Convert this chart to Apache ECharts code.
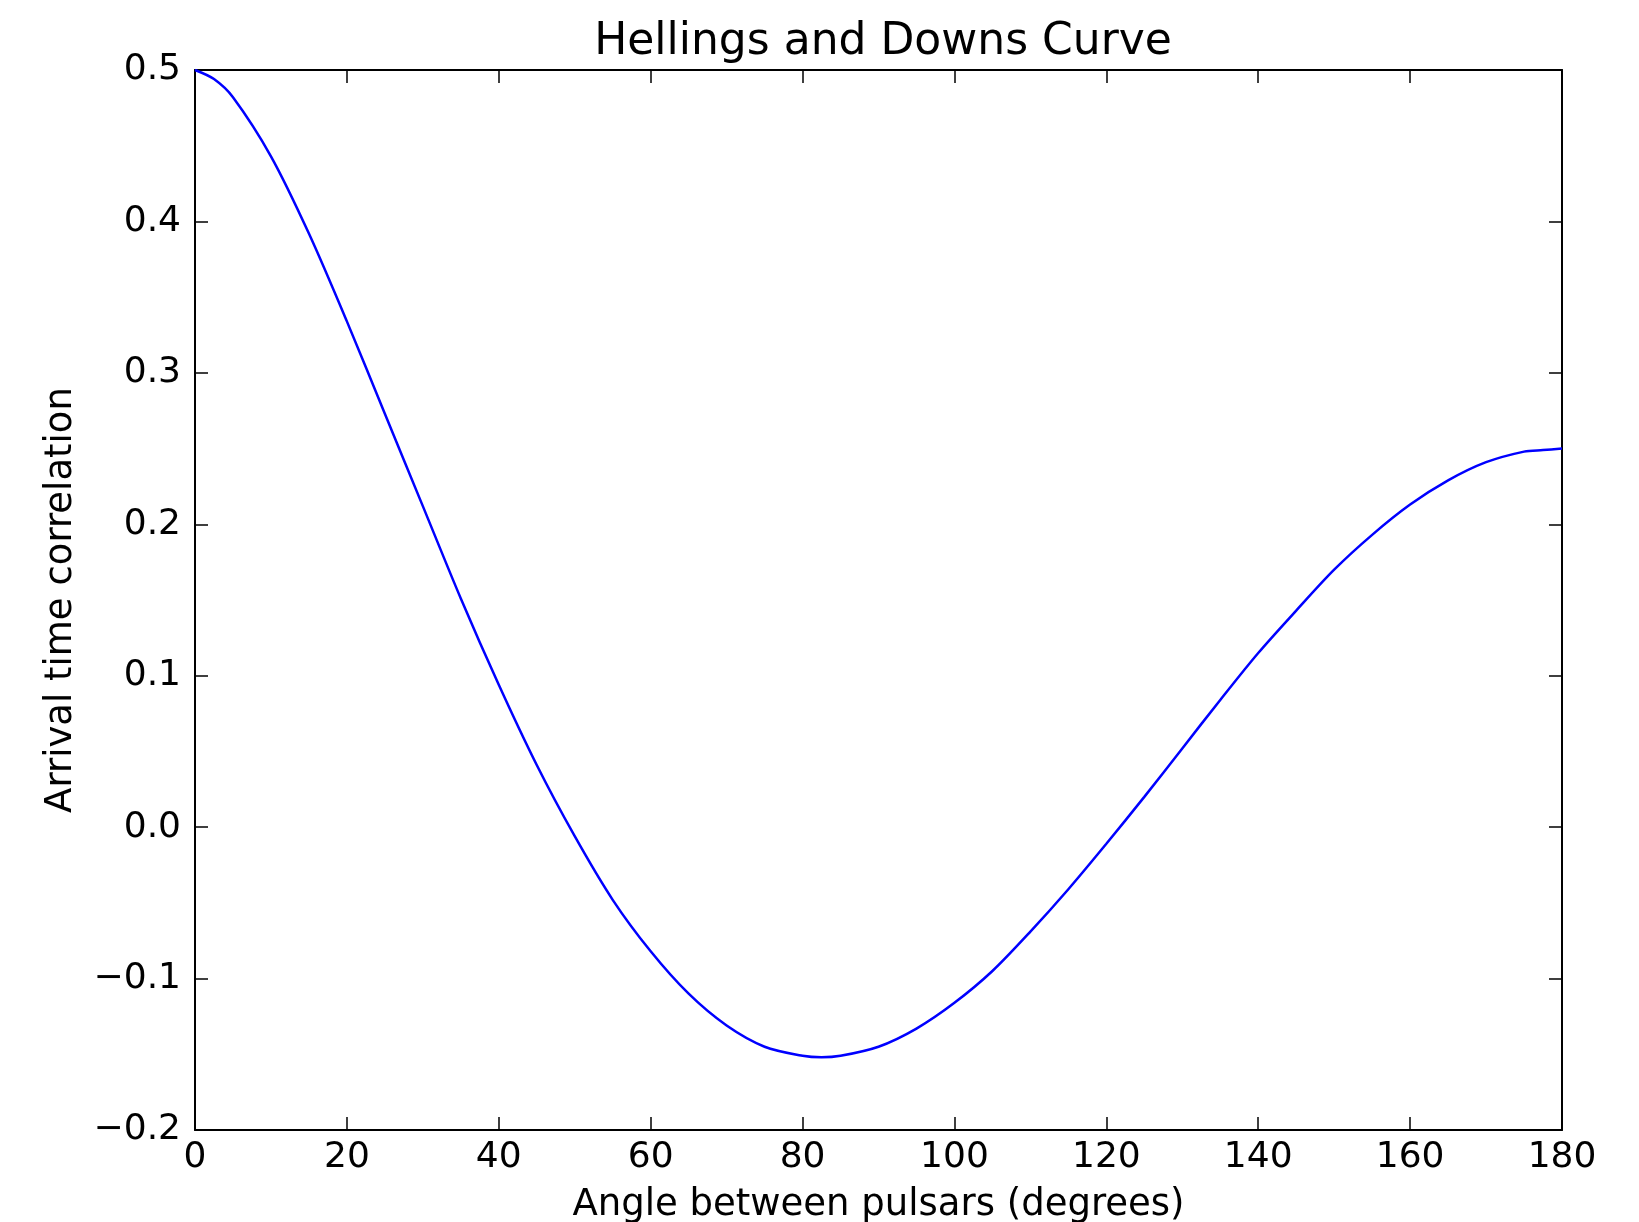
<!DOCTYPE html>
<html>
<head>
<meta charset="utf-8">
<script src="https://cdn.jsdelivr.net/npm/echarts@6/dist/echarts.min.js"></script>
<style>
  html, body { margin: 0; padding: 0; background: #fff; }
  #chart { width: 1639px; height: 1222px; }
</style>
</head>
<body>
<div id="chart"></div>
<script>
// angle between pulsars (degrees)
const angles = [0, 2.5, 5, 10, 15, 20, 25, 30, 35, 40, 45, 50, 55, 60, 65, 70, 75, 80, 82.5, 85, 90,
  95, 100, 105, 110, 115, 120, 125, 130, 135, 140, 145, 150, 155, 160, 165, 170, 175, 177.5, 180]

// arrival time correlation
const correlation = [0.500, 0.494, 0.482, 0.443, 0.392, 0.334, 0.273, 0.212, 0.151, 0.094, 0.041,
  -0.006, -0.048, -0.082, -0.110, -0.131, -0.145, -0.151, -0.152, -0.151, -0.145,
  -0.133, -0.116, -0.095, -0.069, -0.041, -0.011, 0.020, 0.052, 0.084, 0.115,
  0.143, 0.170, 0.193, 0.213, 0.229, 0.241, 0.248, 0.249, 0.250]

const titleText = 'Hellings and Downs Curve'
const xName = 'Angle between pulsars (degrees)'
const yName = 'Arrival time correlation'

const chart = echarts.init(document.getElementById('chart'))

const font = 'DejaVu Sans'
const axisLine = { show: true, onZero: false, lineStyle: { color: '#000', width: 2 } }
const tickIn = { show: true, inside: true, length: 13, lineStyle: { color: '#000', width: 1.5 } }

const fmtY = v => v.toFixed(1).replace('-', '\u2212')

const option = {
  animation: false,
  backgroundColor: '#fff',
  title: {
    text: titleText,
    left: 878,
    textAlign: 'center',
    top: 16,
    textStyle: { fontFamily: font, fontSize: 44, fontWeight: 'normal', color: '#000' }
  },
  grid: { left: 195, right: 77, top: 70, bottom: 92, outerBoundsMode: 'none', containLabel: false },
  xAxis: [
    {
      type: 'value', min: 0, max: 180, interval: 20,
      position: 'bottom',
      name: xName, nameLocation: 'middle', nameGap: 57,
      nameTextStyle: { fontFamily: font, fontSize: 37, color: '#000' },
      axisLine: axisLine, axisTick: tickIn,
      axisLabel: { fontFamily: font, fontSize: 36, color: '#000', margin: 10 },
      splitLine: { show: false }
    },
    {
      type: 'value', min: 0, max: 180, interval: 20,
      position: 'top',
      axisLine: axisLine, axisTick: tickIn,
      axisLabel: { show: false },
      splitLine: { show: false }
    }
  ],
  yAxis: [
    {
      type: 'value', min: -0.2, max: 0.5, interval: 0.1,
      position: 'left',
      name: yName, nameLocation: 'middle', nameGap: 115, nameRotate: 90,
      nameTextStyle: { fontFamily: font, fontSize: 37, color: '#000' },
      axisLine: axisLine, axisTick: tickIn,
      axisLabel: { fontFamily: font, fontSize: 36, color: '#000', margin: 14, formatter: fmtY },
      splitLine: { show: false }
    },
    {
      type: 'value', min: -0.2, max: 0.5, interval: 0.1,
      position: 'right',
      axisLine: axisLine, axisTick: tickIn,
      axisLabel: { show: false },
      splitLine: { show: false }
    }
  ],
  series: [
    {
      type: 'line',
      data: angles.map((a, i) => [a, correlation[i]]),
      smooth: 0.3,
      symbol: 'none',
      lineStyle: { color: '#0000ff', width: 2.5 },
      z: 1
    }
  ]
}

chart.setOption(option)
</script>
</body>
</html>
